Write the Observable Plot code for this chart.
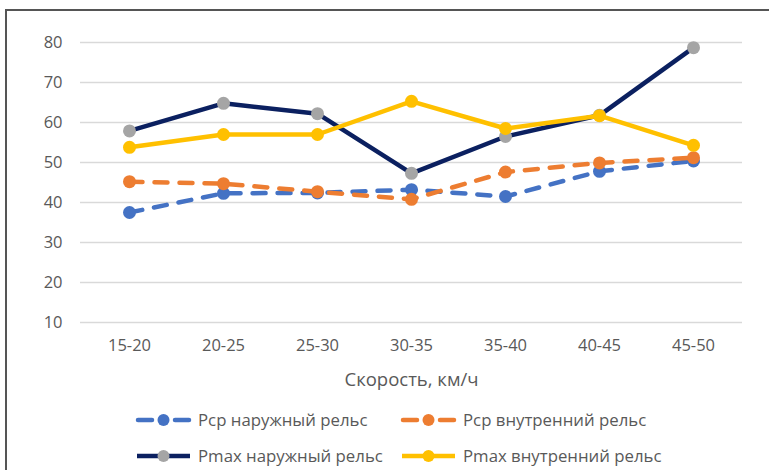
<!DOCTYPE html>
<html>
<head>
<meta charset="utf-8">
<script src="https://cdn.jsdelivr.net/npm/d3@7"></script>
<script src="https://cdn.jsdelivr.net/npm/@observablehq/plot@0.6"></script>
<style>
  html, body { margin: 0; padding: 0; background: #fff; }
  body { width: 769px; height: 470px; position: relative; overflow: hidden; font-family: "Open Sans", sans-serif; }
  #frame { position: absolute; left: 5px; top: 9px; width: 900px; height: 600px; border-left: 2px solid #555; border-top: 2px solid #555; }
  #chart { position: absolute; left: 0; top: 0; }
  .leg { position: absolute; display: flex; align-items: center; font-size: 16.8px; color: #595959; white-space: nowrap; }
  .leg svg { margin-right: 6px; }
</style>
</head>
<body>
<div id="frame"></div>
<div id="chart"></div>
<div id="legend"></div>
<script>
const categories = ["15-20", "20-25", "25-30", "30-35", "35-40", "40-45", "45-50"];
const seriesNames = ["Pcp наружный рельс", "Pcp внутренний рельс", "Pmax наружный рельс", "Pmax внутренний рельс"];
const pcpOuter = [37.5, 42.3, 42.4, 43.2, 41.5, 47.8, 50.4];
const pcpInner = [45.2, 44.7, 42.7, 40.8, 47.6, 49.9, 51.2];
const pmaxOuter = [57.9, 64.8, 62.2, 47.3, 56.5, 61.8, 78.7];
const pmaxInner = [53.8, 57.0, 57.0, 65.3, 58.5, 61.7, 54.3];
const yTicks = [10, 20, 30, 40, 50, 60, 70, 80];
const xLabel = "Скорость, км/ч";

const lineColors = ["#4472C4", "#ED7D31", "#0B2060", "#FFC000"];
const markerColors = ["#4472C4", "#ED7D31", "#A5A5A5", "#FFC000"];
const dashed = [true, true, false, false];
const allValues = [pcpOuter, pcpInner, pmaxOuter, pmaxInner];

const marks = [
  Plot.ruleY(yTicks, {stroke: "#D9D9D9", strokeWidth: 1.5}),
  Plot.axisY(yTicks, {tickSize: 0, tickPadding: 18, fontSize: 16.5, color: "#595959", label: null}),
  Plot.axisX(categories, {tickSize: 0, tickPadding: 17, fontSize: 16.5, color: "#595959", label: null}),
  Plot.text([xLabel], {frameAnchor: "bottom", dy: 58, fontSize: 18.5, fill: "#595959", lineAnchor: "middle"})
];
allValues.forEach((vals, i) => {
  const data = categories.map((c, j) => ({cat: c, v: vals[j]}));
  marks.push(Plot.line(data, {x: "cat", y: "v", stroke: lineColors[i], strokeWidth: 4.5,
    strokeDasharray: dashed[i] ? "13,12" : null, strokeLinecap: "round", strokeLinejoin: "round"}));
  marks.push(Plot.dot(data, {x: "cat", y: "v", r: 6.5, fill: markerColors[i], stroke: "none"}));
});

const chart = Plot.plot({
  width: 769,
  height: 400,
  marginLeft: 80,
  marginRight: 27,
  marginTop: 42,
  marginBottom: 78,
  style: {fontFamily: "Open Sans, sans-serif", background: "transparent", overflow: "visible"},
  x: {type: "point", domain: categories, padding: 0.5, axis: null},
  y: {domain: [10, 80], axis: null},
  marks
});
document.getElementById("chart").appendChild(chart);

// legend
const legPos = [[135, 420], [400, 420], [135, 456], [400, 456]];
const legend = document.getElementById("legend");
seriesNames.forEach((name, i) => {
  const d = document.createElement("div");
  d.className = "leg";
  d.style.left = legPos[i][0] + "px";
  d.style.top = (legPos[i][1] - 12) + "px";
  const w = 57;
  let sym;
  if (dashed[i]) {
    sym = `<line x1="3" y1="8" x2="17" y2="8" stroke="${lineColors[i]}" stroke-width="4.5" stroke-linecap="round"/>
           <line x1="40" y1="8" x2="54" y2="8" stroke="${lineColors[i]}" stroke-width="4.5" stroke-linecap="round"/>`;
  } else {
    sym = `<line x1="2" y1="8" x2="55" y2="8" stroke="${lineColors[i]}" stroke-width="4.5"/>`;
  }
  sym += `<circle cx="28.5" cy="8" r="6" fill="${markerColors[i]}"/>`;
  d.innerHTML = `<svg width="${w}" height="16">${sym}</svg><span>${name}</span>`;
  legend.appendChild(d);
});
</script>
</body>
</html>
